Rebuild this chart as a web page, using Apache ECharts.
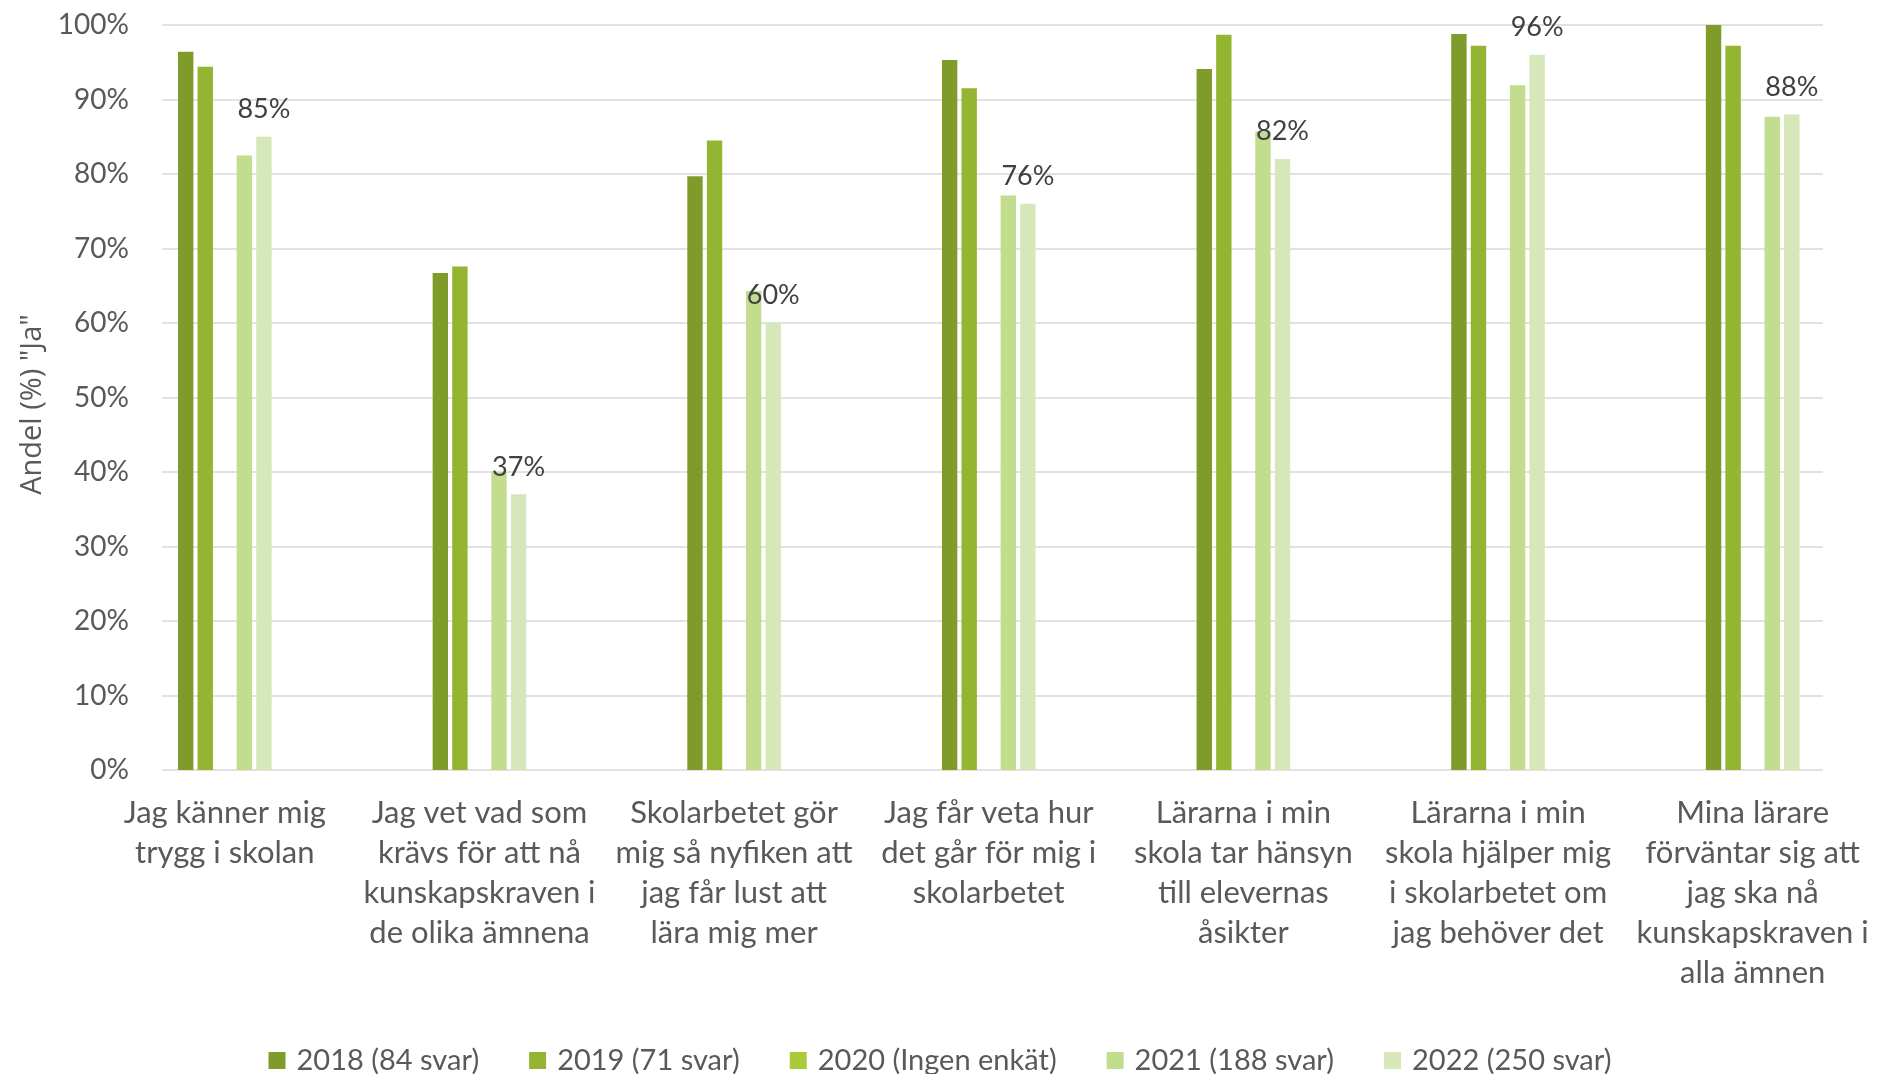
<!DOCTYPE html>
<html>
<head>
<meta charset="utf-8">
<script src="https://cdn.jsdelivr.net/npm/echarts@6/dist/echarts.min.js"></script>
<style>
  html, body { margin: 0; padding: 0; background: #ffffff; }
  #chart { width: 1880px; height: 1074px; }
</style>
</head>
<body>
<div id="chart"></div>
<script>
// Påståenden i enkäten (radbrytningar som i diagrammet)
const categories = [
  'Jag känner mig\ntrygg i skolan',
  'Jag vet vad som\nkrävs för att nå\nkunskapskraven i\nde olika ämnena',
  'Skolarbetet gör\nmig så nyfiken att\njag får lust att\nlära mig mer',
  'Jag får veta hur\ndet går för mig i\nskolarbetet',
  'Lärarna i min\nskola tar hänsyn\ntill elevernas\nåsikter',
  'Lärarna i min\nskola hjälper mig\ni skolarbetet om\njag behöver det',
  'Mina lärare\nförväntar sig att\njag ska nå\nkunskapskraven i\nalla ämnen'
];

// Andel "Ja" (%) per år
const seriesNames = ['2018 (84 svar)', '2019 (71 svar)', '2020 (Ingen enkät)', '2021 (188 svar)', '2022 (250 svar)'];
const values2018 = [96.4, 66.7, 79.7, 95.3, 94.1, 98.8, 100];
const values2019 = [94.4, 67.6, 84.5, 91.5, 98.7, 97.2, 97.2];
const values2020 = [];            // ingen enkät genomfördes 2020
const values2021 = [82.5, 40.0, 64.3, 77.1, 85.7, 91.9, 87.7];
const values2022 = [85, 37, 60, 76, 82, 96, 88];

const yTicks = { min: 0, max: 100, interval: 10 };

const colors = ['#7f9c2b', '#93b531', '#a9cb3a', '#c2dd8e', '#d6e7b9'];
const seriesValues = [values2018, values2019, values2020, values2021, values2022];

const FONT = 'Lato';
const TEXT_GREY = '#595959';

const chart = echarts.init(document.getElementById('chart'), null, { renderer: 'canvas' });

const series = seriesNames.map((name, i) => ({
  name: name,
  type: 'bar',
  xAxisIndex: 0,
  yAxisIndex: 0,
  data: seriesValues[i],
  barWidth: 15.4,
  barGap: '27%',
  itemStyle: { color: colors[i] },
  label: i === 4 ? {
    show: true,
    position: 'top',
    distance: 14,
    formatter: '{c}%',
    color: '#404040',
    fontFamily: FONT,
    fontSize: 27
  } : { show: false },
  emphasis: { disabled: true }
}));

const option = {
  backgroundColor: '#ffffff',
  animation: false,
  color: colors,
  grid: [
    // staplar och kategorietiketter (ytan går något utanför stödlinjerna)
    { left: 97.5, width: 1794, top: 25, bottom: 304, containLabel: false },
    // stödlinjer och procentskala
    { left: 162, right: 57, top: 25, bottom: 304, containLabel: false }
  ],
  xAxis: [
    {
      type: 'category',
      gridIndex: 0,
      data: categories,
      axisLine: { show: false },
      axisTick: { show: false },
      axisLabel: {
        interval: 0,
        margin: 23,
        color: TEXT_GREY,
        fontFamily: FONT,
        fontSize: 31,
        lineHeight: 40
      }
    },
    { type: 'value', gridIndex: 1, show: false }
  ],
  yAxis: [
    {
      type: 'value',
      gridIndex: 0,
      min: yTicks.min, max: yTicks.max, interval: yTicks.interval,
      show: false,
      splitLine: { show: false }
    },
    {
      type: 'value',
      gridIndex: 1,
      min: yTicks.min, max: yTicks.max, interval: yTicks.interval,
      name: 'Andel (%) "Ja"',
      nameLocation: 'middle',
      nameRotate: 90,
      nameGap: 114,
      nameTextStyle: {
        color: TEXT_GREY,
        fontFamily: 'Open Sans',
        fontSize: 29,
        padding: [0, 14, 0, 0]
      },
      axisLine: { show: false },
      axisTick: { show: false },
      axisLabel: {
        formatter: '{value}%',
        margin: 33,
        color: TEXT_GREY,
        fontFamily: FONT,
        fontSize: 28
      },
      splitLine: { lineStyle: { color: '#d9d9d9', width: 1.5 } }
    }
  ],
  legend: {
    data: seriesNames,
    left: 'center',
    top: 1041,
    itemWidth: 17,
    itemHeight: 17,
    itemGap: 50,
    icon: 'rect',
    selectedMode: false,
    textStyle: {
      color: TEXT_GREY,
      fontFamily: FONT,
      fontSize: 29,
      padding: [0, 0, 0, 6]
    }
  },
  series: series
};

chart.setOption(option);
</script>
</body>
</html>
